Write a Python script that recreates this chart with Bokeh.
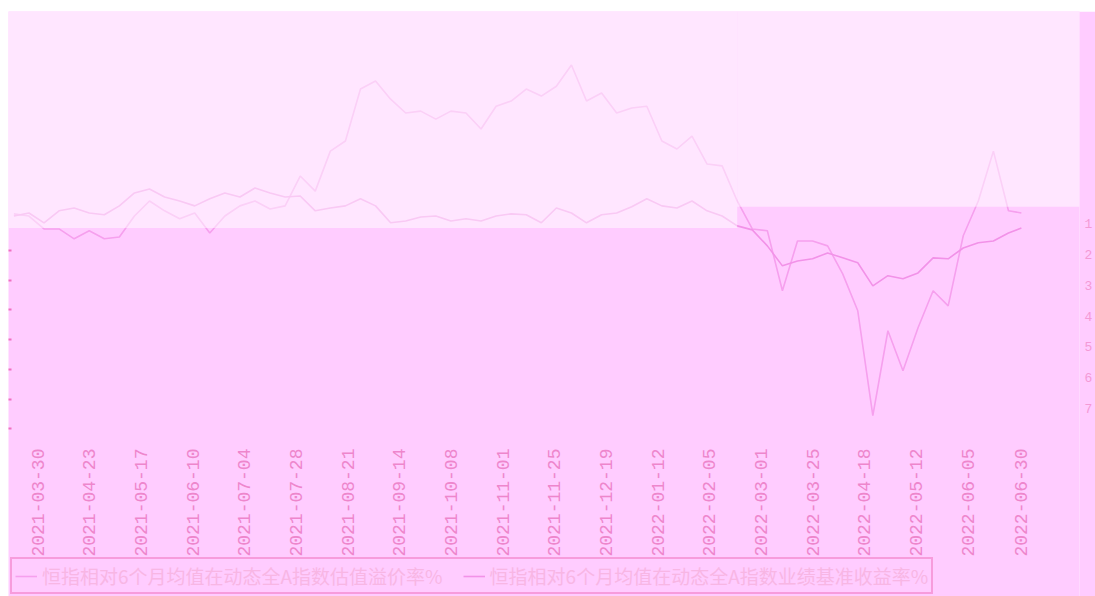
import math
import pandas as pd
from bokeh.plotting import figure
from bokeh.models import (Range1d, LinearAxis, FixedTicker, Legend, LegendItem,
                          BoxAnnotation, ColumnDataSource)
from bokeh.core.properties import value
from bokeh.embed import file_html
from bokeh.resources import INLINE

# ---- data ----
dates = list(pd.date_range("2021-03-19", periods=67, freq="7D")) + [pd.Timestamp("2022-06-30")]

series_a = [-0.68, -0.75, -1.17, -1.17, -1.49, -1.23, -1.49, -1.43, -0.75, -0.26,
            -0.58, -0.84, -0.65, -1.30, -0.75, -0.42, -0.26, -0.52, -0.42, 0.55,
            0.06, 1.36, 1.69, 3.38, 3.64, 3.05, 2.60, 2.66, 2.40, 2.66,
            2.60, 2.08, 2.82, 2.99, 3.38, 3.15, 3.47, 4.16, 2.99, 3.25,
            2.60, 2.76, 2.82, 1.69, 1.43, 1.85, 0.94, 0.88, -0.26, -1.17,
            -1.23, -3.18, -1.56, -1.56, -1.72, -2.63, -3.83, -7.24, -4.48, -5.78,
            -4.38, -3.18, -3.67, -1.39, -0.26, 1.36, -0.58, -0.65]

series_b = [-0.75, -0.65, -0.97, -0.58, -0.49, -0.65, -0.71, -0.42, 0.00, 0.13,
            -0.13, -0.26, -0.42, -0.19, 0.00, -0.13, 0.16, 0.00, -0.13, -0.10,
            -0.58, -0.49, -0.42, -0.19, -0.42, -0.97, -0.91, -0.78, -0.75, -0.91,
            -0.84, -0.91, -0.75, -0.68, -0.71, -0.97, -0.49, -0.65, -0.97, -0.71,
            -0.65, -0.45, -0.19, -0.42, -0.49, -0.26, -0.58, -0.75, -1.07, -1.20,
            -1.72, -2.37, -2.21, -2.14, -1.95, -2.11, -2.27, -3.02, -2.69, -2.79,
            -2.60, -2.11, -2.14, -1.79, -1.62, -1.56, -1.30, -1.14]

tick_labels = ["2021-03-30", "2021-04-23", "2021-05-17", "2021-06-10", "2021-07-04",
               "2021-07-28", "2021-08-21", "2021-09-14", "2021-10-08", "2021-11-01",
               "2021-11-25", "2021-12-19", "2022-01-12", "2022-02-05", "2022-03-01",
               "2022-03-25", "2022-04-18", "2022-05-12", "2022-06-05", "2022-06-30"]

right_ticks = [1, 2, 3, 4, 5, 6, 7]
left_ticks = [-60, -50, -40, -30, -20, -10, 0]

label_a = "恒指相对6个月均值在动态全A指数估值溢价率%"
label_b = "恒指相对6个月均值在动态全A指数业绩基准收益率%"

# ---- styling ----
BG = "#FFCCFF"
LINE_A = "#F6A0EE"
LINE_B = "#F292E8"
TXT = "#EE86CC"
FONT = "Liberation Mono"
LABEL_Y = -8.31   # vertical anchor of the date labels (below the plotted band)

p = figure(frame_width=1071, frame_height=585, output_backend="svg", toolbar_location=None,
           x_axis_type="datetime", x_axis_location=None, y_axis_location=None,
           x_range=Range1d(pd.Timestamp("2021-03-16 12:00"), pd.Timestamp("2022-07-27")),
           y_range=Range1d(-13.12, 5.9),
           min_border_top=0, min_border_left=0, min_border_right=0, min_border_bottom=0)
p.margin = (11, 0, 0, 8)
p.background_fill_color = BG
p.border_fill_color = BG
p.outline_line_color = None
p.grid.visible = False

p.extra_y_ranges = {"right": Range1d(13.11, -5.9), "left": Range1d(-116.5, 80.5)}

ax_l = LinearAxis(y_range_name="left", ticker=FixedTicker(ticks=left_ticks),
                  major_label_overrides={t: "" for t in left_ticks},
                  major_tick_in=3, major_tick_out=0,
                  minor_tick_line_color=None, axis_line_color=None,
                  major_tick_line_color="#F070C0", major_tick_line_width=2,
                  major_label_standoff=0, axis_label=None, axis_label_standoff=0)
p.add_layout(ax_l, "left")

ax_r = LinearAxis(y_range_name="right", ticker=FixedTicker(ticks=right_ticks),
                  major_label_text_font_size="13px", major_label_text_color="#F49AD6",
                  major_label_text_font=FONT, axis_label=None, axis_label_standoff=0,
                  major_tick_in=0, major_tick_out=0, minor_tick_line_color=None,
                  axis_line_color=None, major_label_standoff=5)
p.add_layout(ax_r, "right")

# date tick labels, placed on the time scale
tick_src = ColumnDataSource(dict(x=[pd.Timestamp(s) for s in tick_labels],
                                 y=[LABEL_Y] * len(tick_labels),
                                 t=tick_labels))
p.text(x="x", y="y", text="t", source=tick_src, angle=math.pi / 2,
       text_align="right", text_baseline="middle",
       text_font=value(FONT), text_font_size=value("18px"), text_color=TXT)

ra = p.line(dates, series_a, line_color=LINE_A, line_width=1.6)
rb = p.line(dates, series_b, line_color=LINE_B, line_width=1.6)

# washed-out upper band
p.add_layout(BoxAnnotation(bottom=-1.14, right=pd.Timestamp("2022-02-18"),
                           fill_color="white", fill_alpha=0.5, line_color=None))
p.add_layout(BoxAnnotation(bottom=-0.45, left=pd.Timestamp("2022-02-18"),
                           fill_color="white", fill_alpha=0.5, line_color=None))

legend = Legend(items=[LegendItem(label=label_a, renderers=[ra]),
                       LegendItem(label=label_b, renderers=[rb])],
                orientation="horizontal", location="bottom_left",
                border_line_color="#F06CBA", border_line_width=2,
                background_fill_color=BG, background_fill_alpha=1,
                label_text_color="#F8B6E4", label_text_font_size="19px",
                label_text_font="Noto Sans CJK SC",
                glyph_width=22, spacing=20, padding=3, margin=2)
p.add_layout(legend, "center")

open("out.html", "w").write(file_html(p, INLINE))
